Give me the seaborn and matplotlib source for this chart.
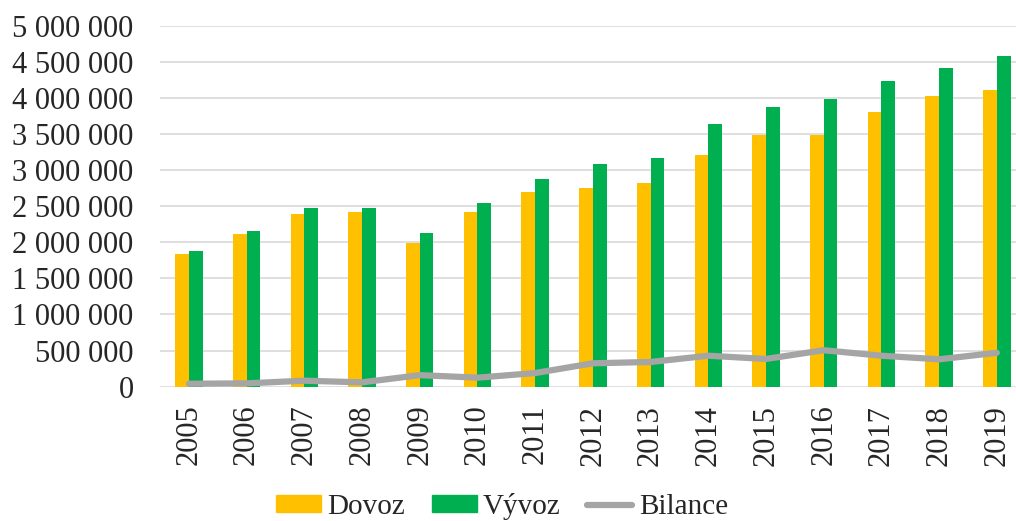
import numpy as np
import pandas as pd
import matplotlib
matplotlib.use("Agg")
import matplotlib.pyplot as plt
import seaborn as sns
from matplotlib.ticker import FuncFormatter
from matplotlib.patches import Patch
from matplotlib.lines import Line2D

# data
roky = [str(r) for r in range(2005, 2020)]
dovoz = [1834000, 2111000, 2392000, 2415000, 1986000, 2415000, 2692000, 2756000,
         2821000, 3205000, 3486000, 3486000, 3809000, 4022000, 4109000]
vyvoz = [1875000, 2157000, 2475000, 2475000, 2133000, 2540000, 2881000, 3080000,
         3163000, 3634000, 3870000, 3981000, 4238000, 4410000, 4576000]
bilance = [41000, 46000, 83000, 60000, 160000, 125000, 189000, 324000,
           342000, 429000, 384000, 505000, 429000, 379000, 470000]

df = pd.DataFrame({"rok": roky * 2,
                   "hodnota": dovoz + vyvoz,
                   "serie": ["Dovoz"] * 15 + ["Vývoz"] * 15})

sns.set_style("white")
plt.rcParams["font.family"] = ["Liberation Serif", "DejaVu Serif"]

fig = plt.figure(figsize=(10.16, 5.21), dpi=100)
ax = fig.add_axes([0.1575, 0.2578, 0.852, 0.6929])

sns.barplot(data=df, x="rok", y="hodnota", hue="serie",
            palette=["#FFC000", "#00B050"], width=0.475, saturation=1,
            linewidth=0, ax=ax, legend=False, zorder=2)
sns.lineplot(x=np.arange(len(roky)), y=bilance, color="#A5A5A5",
             linewidth=4.5, ax=ax, zorder=3)

ax.set_ylim(0, 5000000)
ax.set_xlim(-0.5, len(roky) - 0.5)
ax.set_yticks(np.arange(0, 5000001, 500000))
ax.yaxis.set_major_formatter(FuncFormatter(lambda v, p: f"{v:,.0f}".replace(",", " ")))
ax.grid(axis="y", color="#D9D9D9", linewidth=1.2, zorder=0)
ax.set_axisbelow(True)
for s in ax.spines.values():
    s.set_visible(False)
ax.set_xlabel("")
ax.set_ylabel("")
ax.tick_params(axis="y", length=0, pad=19, labelsize=22)
ax.tick_params(axis="x", length=0, pad=13, labelsize=22, rotation=90)

handles = [Patch(color="#FFC000"), Patch(color="#00B050"),
           Line2D([], [], color="#A5A5A5", linewidth=4.5)]
fig.legend(handles, ["Dovoz", "Vývoz", "Bilance"], loc="center",
           bbox_to_anchor=(0.494, 0.028), ncol=3, frameon=False, fontsize=21,
           handlelength=1.55, handleheight=0.5, handletextpad=0.22,
           columnspacing=0.9)

fig.savefig("out.png", dpi=100)
